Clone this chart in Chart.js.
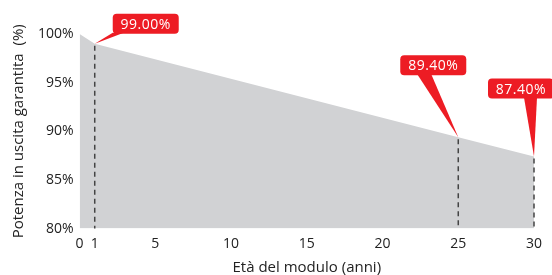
<!DOCTYPE html>
<html>
<head>
<meta charset="utf-8">
<script src="https://cdn.jsdelivr.net/npm/chart.js@4"></script>
<style>
  html, body { margin: 0; padding: 0; background: #fff; }
  #wrap { width: 552px; height: 275px; }
</style>
</head>
<body>
<div id="wrap"><canvas id="chart"></canvas></div>
<script>
const years = [0, 1, 25, 30];
const power = [100, 99, 89.4, 87.4];
const xTicks = [0, 1, 5, 10, 15, 20, 25, 30];
const markedYears = [1, 25, 30];

// callout placement relative to the marked point (box centre offset, pointer base)
const callouts = {
    1: { dx: 51, dy: -20, base: [-33, -22] },
    25: { dx: -25, dy: -72, base: [-16, -2] },
    30: { dx: -13, dy: -68, base: [3, 16] },
};

const markers = {
    id: "markers",
    afterDatasetsDraw(chart) {
        const ctx = chart.ctx;
        const xs = chart.scales.x, ys = chart.scales.y;
        const bottom = chart.chartArea.bottom;
        ctx.save();
        markedYears.forEach((yr) => {
            const v = power[years.indexOf(yr)];
            const px = xs.getPixelForValue(yr);
            const py = ys.getPixelForValue(v);
            // dashed drop line
            ctx.strokeStyle = "#444";
            ctx.lineWidth = 1.5;
            ctx.setLineDash([5, 4]);
            ctx.beginPath();
            ctx.moveTo(px, py + 2);
            ctx.lineTo(px, bottom);
            ctx.stroke();
            ctx.setLineDash([]);

            const c = callouts[yr];
            const w = 66, h = 20;
            const cx = px + c.dx, cy = py + c.dy;
            ctx.fillStyle = "#ed1c24";
            ctx.beginPath();
            ctx.moveTo(cx + c.base[0], cy + h / 2 - 1);
            ctx.lineTo(cx + c.base[1], cy + h / 2 - 1);
            ctx.lineTo(px, py);
            ctx.closePath();
            ctx.fill();
            ctx.beginPath();
            ctx.roundRect(cx - w / 2, cy - h / 2, w, h, 4);
            ctx.fill();
            ctx.fillStyle = "#fff";
            ctx.font = "14px 'Open Sans'";
            ctx.letterSpacing = "0.5px";
            ctx.textAlign = "center";
            ctx.textBaseline = "middle";
            ctx.fillText(v.toFixed(2) + "%", cx, cy + 1);
        });
        ctx.restore();
    },
};

new Chart(document.getElementById("chart"), {
    type: "line",
    plugins: [markers],
    data: {
        datasets: [{
            data: years.map((x, i) => ({ x: x, y: power[i] })),
            fill: "origin",
            backgroundColor: "#d1d2d4",
            borderWidth: 0,
            pointRadius: 0,
            tension: 0,
        }],
    },
    options: {
        responsive: true,
        maintainAspectRatio: false,
        animation: false,
        layout: { padding: { top: 34, right: 18, left: 10, bottom: 0 } },
        plugins: {
            legend: { display: false },
            tooltip: { enabled: false },
        },
        scales: {
            x: {
                type: "linear",
                min: 0,
                max: 30,
                afterBuildTicks: (axis) => { axis.ticks = xTicks.map((v) => ({ value: v })); },
                grid: { display: false, drawTicks: false },
                border: { display: false },
                ticks: {
                    autoSkip: false,
                    maxRotation: 0,
                    padding: 8,
                    color: "#222",
                    font: { family: "'Open Sans'", size: 14, lineHeight: 1.1 },
                },
                title: {
                    display: true,
                    text: "Età del modulo (anni)",
                    color: "#222",
                    padding: { top: 0, bottom: 0 },
                    font: { family: "'Open Sans'", size: 15, lineHeight: 1 },
                },
            },
            y: {
                min: 80,
                max: 100,
                ticks: {
                    stepSize: 5,
                    padding: 6,
                    color: "#222",
                    callback: (v) => v + "%",
                    font: { family: "'Open Sans'", size: 14 },
                },
                grid: { display: false, drawTicks: false },
                border: { display: false },
                title: {
                    display: true,
                    text: "Potenza in uscita garantita  (%)",
                    color: "#222",
                    padding: { top: 0, bottom: 4 },
                    font: { family: "'Open Sans'", size: 15 },
                },
            },
        },
    },
});
</script>
</body>
</html>
